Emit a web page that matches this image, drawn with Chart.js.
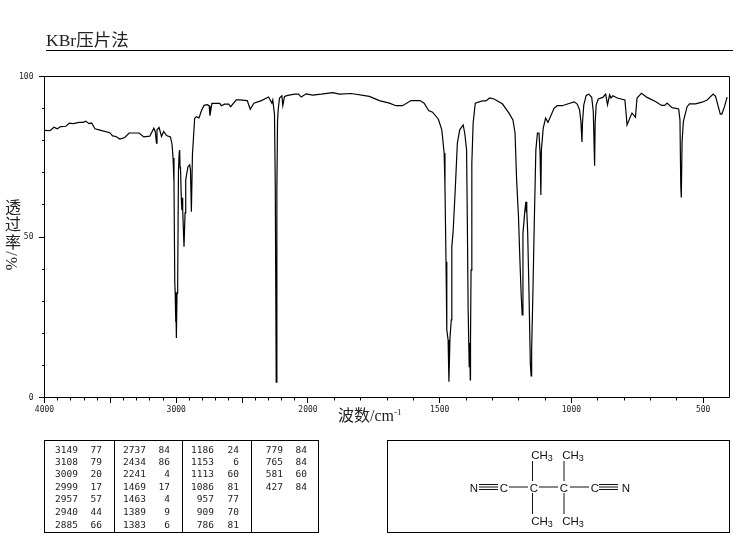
<!DOCTYPE html>
<html>
<head>
<meta charset="utf-8">
<script src="https://cdn.jsdelivr.net/npm/chart.js@4/dist/chart.umd.js"></script>
<style>
  body { margin: 0; background: #fff; width: 737px; height: 539px; overflow: hidden; position: relative; }
  canvas { position: absolute; left: 0; top: 0; }
  .label { position: absolute; color: #222; font-family: "Liberation Serif", "Noto Sans CJK SC", serif; white-space: nowrap; }
  #title { left: 46px; top: 30px; font-size: 17.5px; line-height: 20px; width: 687px; height: 20px; border-bottom: 1px solid #000; }
  #xTitle { left: 338px; top: 406px; font-size: 16px; line-height: 20px; }
  #xTitle sup { font-size: 9px; line-height: 0; }
  #yTitle { left: 3px; top: 199px; font-size: 16px; line-height: 17px; letter-spacing: 1.4px; writing-mode: vertical-rl; }
  .box { position: absolute; box-sizing: border-box; border: 1px solid #000; top: 440px; height: 93px; }
  #peaks { left: 44px; width: 275px; }
  .sep { position: absolute; top: 0; bottom: 0; width: 1px; background: #000; }
  .cell { position: absolute; font: 9.5px/12px "DejaVu Sans Mono", monospace; color: #222; text-align: right; width: 30px; }
  #structure { left: 387px; width: 343px; }
  #structure svg { position: absolute; left: -1px; top: -1px; }
  #structure text { font: 11.5px "Liberation Sans", sans-serif; fill: #111; text-anchor: middle; }
</style>
</head>
<body>
<canvas id="irChart" width="737" height="539"></canvas>
<div class="label" id="title">KBr压片法</div>
<div class="label" id="xTitle">波数/cm<sup>-1</sup></div>
<div class="label" id="yTitle">透过率/%</div>
<div class="box" id="peaks"></div>
<div class="box" id="structure">
  <svg width="343" height="93" viewBox="387 440 343 93">
    <g stroke="#111" stroke-width="1">
      <path d="M479 484.5H498M479 487H498M479 489.5H498"/>
      <path d="M509 487H528M539 487H558M570 487H589"/>
      <path d="M599 484.5H618M599 487H618M599 489.5H618"/>
      <path d="M532.5 461V481M532.5 493V514M564 461V481M564 493V514"/>
    </g>
    <text x="474" y="492">N</text>
    <text x="504" y="492">C</text>
    <text x="534" y="492">C</text>
    <text x="564" y="492">C</text>
    <text x="595" y="492">C</text>
    <text x="626" y="492">N</text>
    <text x="542" y="459">CH<tspan font-size="9" dy="2">3</tspan></text>
    <text x="573" y="459">CH<tspan font-size="9" dy="2">3</tspan></text>
    <text x="542" y="525">CH<tspan font-size="9" dy="2">3</tspan></text>
    <text x="573" y="525">CH<tspan font-size="9" dy="2">3</tspan></text>
  </svg>
</div>
<script>
const wavenumbers = [
  3998, 3958, 3928, 3903, 3877, 3837, 3812, 3782, 3736, 3706, 3686, 3663, 3642, 3617, 3580, 3504,
  3483, 3458, 3428, 3390, 3358, 3282, 3246, 3201, 3170, 3159, 3150, 3146, 3130, 3112, 3095, 3074,
  3044, 3032, 3024, 3017, 3011, 3008, 3005, 3002, 2999, 2994, 2989, 2983, 2977, 2974, 2971, 2968,
  2961, 2957, 2954, 2951, 2941, 2933, 2928, 2911, 2898, 2892, 2885, 2877, 2860, 2847, 2827, 2809,
  2789, 2764, 2750, 2744, 2729, 2670, 2658, 2633, 2602, 2587, 2544, 2519, 2461, 2438, 2411, 2354,
  2299, 2274, 2267, 2254, 2248, 2241, 2236, 2231, 2226, 2216, 2198, 2191, 2178, 2153, 2102, 2072,
  2051, 2014, 1982, 1950, 1906, 1881, 1836, 1767, 1729, 1691, 1666, 1641, 1609, 1575, 1559, 1542,
  1527, 1505, 1492, 1483, 1480, 1476, 1473, 1468, 1465, 1461, 1456, 1454, 1449, 1441, 1433, 1424,
  1411, 1405, 1398, 1395, 1392, 1388, 1386, 1384, 1383, 1381, 1378, 1373, 1365, 1338, 1325, 1310,
  1294, 1262, 1237, 1222, 1214, 1208, 1201, 1196, 1191, 1187, 1184, 1177, 1173, 1171, 1170, 1169,
  1166, 1161, 1156, 1153, 1151, 1146, 1141, 1135, 1129, 1123, 1119, 1116, 1114, 1107, 1098, 1089,
  1066, 1054, 1035, 1009, 990, 978, 969, 964, 960, 958, 953, 944, 934, 923, 917, 912,
  910, 906, 898, 881, 870, 863, 855, 850, 843, 826, 797, 792, 789, 776, 770, 757,
  751, 734, 713, 681, 658, 646, 637, 618, 593, 588, 585, 583, 580, 575, 561, 552,
  529, 504, 485, 462, 453, 435, 429, 419, 409
];
const transmittance = [
  83.2, 83.1, 84.2, 83.7, 84.4, 84.5, 85.5, 85.3, 85.7, 85.7, 86.1, 85.3, 85.5, 83.7, 83.3, 82.5,
  81.5, 81.3, 80.5, 81.0, 82.4, 82.4, 81.2, 81.4, 83.9, 82.8, 79.2, 83.4, 84.1, 81.3, 82.9, 81.6,
  81.2, 78.9, 74.6, 66.8, 35.6, 32.9, 23.5, 32.6, 18.5, 32.5, 35.6, 70.9, 76.5, 77.1, 71.5, 71.9,
  61.6, 58.4, 62.2, 58.4, 47.0, 57.5, 67.8, 71.9, 72.5, 70.9, 57.9, 75.6, 87.0, 87.5, 87.1, 89.3,
  91.0, 91.2, 90.9, 87.8, 91.6, 91.6, 90.9, 91.4, 91.4, 90.6, 92.7, 92.7, 92.5, 89.8, 91.7, 92.5,
  93.6, 91.7, 92.7, 88.1, 65.3, 4.8, 65.3, 86.0, 89.6, 93.3, 94.0, 91.0, 93.8, 94.1, 94.5, 94.5,
  93.6, 94.6, 94.2, 94.5, 95.0, 94.5, 94.7, 93.8, 92.5, 91.7, 90.9, 90.9, 92.5, 92.5, 91.7, 89.4,
  88.9, 86.7, 83.4, 76.1, 65.7, 42.3, 21.0, 17.9, 4.9, 18.5, 24.2, 47.0, 51.7, 64.7, 79.2, 83.4,
  84.9, 82.4, 77.2, 54.3, 27.3, 9.6, 17.0, 5.5, 17.9, 39.7, 73.0, 85.5, 91.7, 92.4, 92.4, 93.3,
  93.0, 91.5, 88.6, 86.5, 82.4, 67.8, 56.4, 43.9, 32.5, 25.7, 51.2, 57.9, 61.0, 57.9, 61.0, 58.4,
  51.2, 32.5, 10.7, 6.7, 14.8, 33.5, 54.3, 77.1, 82.4, 82.4, 76.1, 63.1, 77.1, 83.9, 87.0, 85.7,
  90.1, 90.9, 90.9, 91.6, 92.1, 91.4, 89.6, 86.0, 79.6, 85.6, 91.2, 94.1, 94.5, 93.5, 89.1, 72.2,
  85.5, 91.2, 93.0, 93.5, 94.5, 91.2, 94.3, 93.3, 94.0, 93.3, 92.7, 88.1, 84.9, 87.5, 88.6, 87.3,
  93.3, 94.8, 93.5, 92.2, 91.0, 91.0, 91.7, 90.3, 89.9, 86.5, 66.2, 62.3, 79.7, 86.0, 90.6, 91.5,
  91.5, 92.0, 92.7, 94.5, 93.8, 88.3, 88.3, 90.6, 93.6
];

const xTickLabels = [4000, 3000, 2000, 1500, 1000, 500];
const xMajorTicks = [4000, 3500, 3000, 2500, 2000, 1500, 1000, 500];
const yTickLabels = [0, 50, 100];

const peakWavenumbers = [
  ['3149', '3108', '3009', '2999', '2957', '2940', '2885'],
  ['2737', '2434', '2241', '1469', '1463', '1389', '1383'],
  ['1186', '1153', '1113', '1086', '957', '909', '786'],
  ['779', '765', '581', '427']
];
const peakValues = [
  ['77', '79', '20', '17', '57', '44', '66'],
  ['84', '86', '4', '17', '4', '9', '6'],
  ['24', '6', '60', '81', '77', '70', '81'],
  ['84', '84', '60', '84']
];

// the instrument doubles the x scale below 2000 cm-1
const foldWavenumber = (w) => w >= 2000 ? (4000 - w) / 1000 : 2 + (2000 - w) / 500;

class IrScale extends Chart.LinearScale {
  getPixelForValue(value) {
    return this.getPixelForDecimal(foldWavenumber(value) / foldWavenumber(400));
  }
}
IrScale.id = 'irWavenumber';
IrScale.defaults = Chart.LinearScale.defaults;
Chart.register(IrScale);

const frameAndTicks = {
  id: 'frameAndTicks',
  afterDatasetsDraw(chart) {
    const { ctx, chartArea: area, scales } = chart;
    const snap = (v) => Math.floor(v) + 0.5;
    ctx.save();
    ctx.strokeStyle = '#000';
    ctx.lineWidth = 1;
    ctx.beginPath();
    ctx.rect(snap(area.left), snap(area.top), Math.round(area.width), Math.round(area.height));
    scales.x.ticks.forEach((tick) => {
      const x = snap(scales.x.getPixelForValue(tick.value));
      ctx.moveTo(x, area.bottom);
      ctx.lineTo(x, area.bottom + (xMajorTicks.includes(tick.value) ? 5.5 : 3));
    });
    scales.y.ticks.forEach((tick) => {
      const y = snap(scales.y.getPixelForValue(tick.value));
      ctx.moveTo(area.left, y);
      ctx.lineTo(area.left - (yTickLabels.includes(tick.value) ? 5.5 : 2.5), y);
    });
    ctx.stroke();
    ctx.restore();
  }
};

new Chart(document.getElementById('irChart'), {
  type: 'line',
  data: {
    datasets: [{
      data: wavenumbers.map((w, i) => ({ x: w, y: transmittance[i] })),
      borderColor: '#000',
      borderWidth: 1.2,
      pointRadius: 0,
      tension: 0,
      fill: false
    }]
  },
  options: {
    responsive: false,
    animation: false,
    layout: { padding: { top: 76.5, right: 7.5, left: 0, bottom: 0 } },
    plugins: { legend: { display: false }, tooltip: { enabled: false } },
    scales: {
      x: {
        type: 'irWavenumber',
        min: 400,
        max: 4000,
        grid: { display: false },
        border: { display: false },
        afterBuildTicks(scale) {
          const ticks = [];
          for (let w = 4000; w >= 500; w -= 100) ticks.push({ value: w });
          scale.ticks = ticks;
        },
        afterFit(scale) { scale.height = 141.5; },
        ticks: {
          autoSkip: false,
          maxRotation: 0,
          padding: 0,
          color: '#222',
          font: { family: 'DejaVu Sans Mono', size: 8 },
          callback: (value) => xTickLabels.includes(value) ? String(value) : ''
        }
      },
      y: {
        min: 0,
        max: 100,
        grid: { display: false },
        border: { display: false },
        afterFit(scale) { scale.width = 44.5; },
        ticks: {
          stepSize: 10,
          autoSkip: false,
          padding: 3,
          color: '#222',
          font: { family: 'DejaVu Sans Mono', size: 8 },
          callback: (value) => yTickLabels.includes(value) ? String(value) : ''
        }
      }
    }
  },
  plugins: [frameAndTicks]
});

// peak table below the spectrum
const peaksBox = document.getElementById('peaks');
const separators = [69, 137, 206];
const wnRight = [33, 101, 169, 238];
const valueRight = [57, 125, 194, 262];
const rowTops = [3, 15, 27, 40, 52, 65, 78];

separators.forEach((x) => {
  const line = document.createElement('div');
  line.className = 'sep';
  line.style.left = x + 'px';
  peaksBox.appendChild(line);
});

const addCell = (text, right, top) => {
  const cell = document.createElement('div');
  cell.className = 'cell';
  cell.textContent = text;
  cell.style.left = (right - 30) + 'px';
  cell.style.top = top + 'px';
  peaksBox.appendChild(cell);
};

peakWavenumbers.forEach((column, c) => {
  column.forEach((text, r) => {
    addCell(text, wnRight[c], rowTops[r]);
    addCell(peakValues[c][r], valueRight[c], rowTops[r]);
  });
});
</script>
</body>
</html>
